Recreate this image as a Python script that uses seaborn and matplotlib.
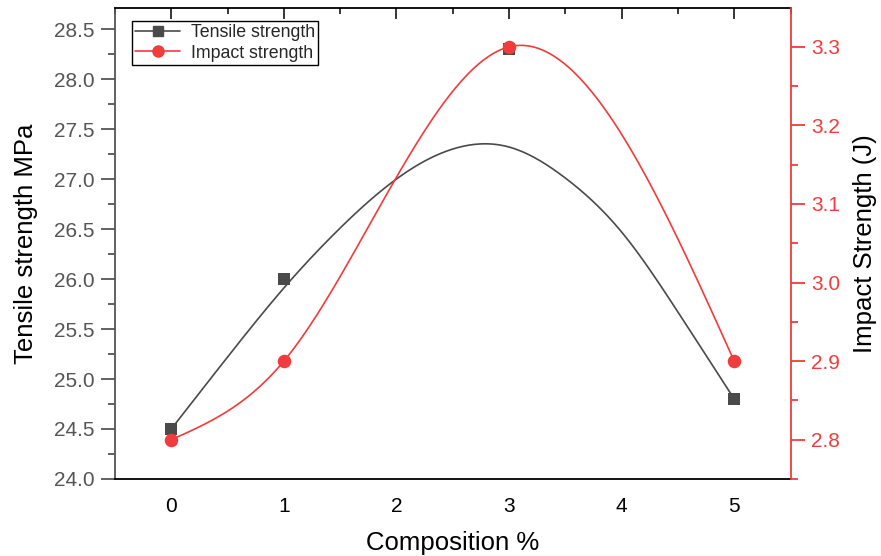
import numpy as np
import pandas as pd
import matplotlib
matplotlib.use("Agg")
import matplotlib.pyplot as plt
import seaborn as sns
from matplotlib.lines import Line2D
from matplotlib.ticker import MultipleLocator, FormatStrFormatter

sns.set_style("white")
plt.rcParams["font.family"] = ["Liberation Sans", "DejaVu Sans"]

# data
composition = [0, 1, 3, 5]
tensile = [24.5, 26.0, 28.3, 24.8]
impact = [2.8, 2.9, 3.3, 2.9]

# the tensile curve in the reference is a smoothed fit
tensile_fit_x = [0, 0.5, 1, 1.5, 2, 2.5, 3, 3.5, 4, 4.5, 5]
tensile_fit_y = [24.5, 25.22, 25.91, 26.51, 27.00, 27.30, 27.32, 27.01, 26.47, 25.67, 24.8]

dark = "#4a4a4a"
red = "#f03c3c"


def natural_spline(xk, yk, xs):
    # natural cubic spline, same as the "spline" line connection
    xk = np.asarray(xk, float)
    yk = np.asarray(yk, float)
    n = len(xk)
    h = np.diff(xk)
    A = np.zeros((n, n))
    rhs = np.zeros(n)
    A[0, 0] = A[-1, -1] = 1
    for i in range(1, n - 1):
        A[i, i - 1] = h[i - 1]
        A[i, i] = 2 * (h[i - 1] + h[i])
        A[i, i + 1] = h[i]
        rhs[i] = 6 * ((yk[i + 1] - yk[i]) / h[i] - (yk[i] - yk[i - 1]) / h[i - 1])
    M = np.linalg.solve(A, rhs)
    idx = np.clip(np.searchsorted(xk, xs) - 1, 0, n - 2)
    x0, x1 = xk[idx], xk[idx + 1]
    hh = x1 - x0
    return (M[idx] * (x1 - xs) ** 3 / (6 * hh) + M[idx + 1] * (xs - x0) ** 3 / (6 * hh)
            + (yk[idx] / hh - M[idx] * hh / 6) * (x1 - xs)
            + (yk[idx + 1] / hh - M[idx + 1] * hh / 6) * (xs - x0))


xs = np.linspace(0, 5, 300)
curves = pd.DataFrame({
    "x": xs,
    "tensile": natural_spline(tensile_fit_x, tensile_fit_y, xs),
    "impact": natural_spline(composition, impact, xs),
})
points = pd.DataFrame({"x": composition, "tensile": tensile, "impact": impact})

fig = plt.figure(figsize=(8.81, 5.56), dpi=100)
ax = fig.add_axes([0.1305, 0.1385, 0.7668, 0.8465])
ax2 = ax.twinx()

sns.lineplot(data=curves, x="x", y="tensile", ax=ax, color=dark, lw=1.2, sort=False)
sns.scatterplot(data=points, x="x", y="tensile", ax=ax, marker="s", s=75,
                color=dark, linewidth=0, zorder=3)
sns.lineplot(data=curves, x="x", y="impact", ax=ax2, color=red, lw=1.2, sort=False)
sns.scatterplot(data=points, x="x", y="impact", ax=ax2, marker="o", s=95,
                color=red, linewidth=0, zorder=3)

ax.set_xlim(-0.5, 5.5)
ax.set_ylim(24.0, 28.707)
ax2.set_ylim(2.75, 3.349)

ax.xaxis.set_major_locator(MultipleLocator(1))
ax.xaxis.set_minor_locator(MultipleLocator(0.5))
ax.yaxis.set_major_locator(MultipleLocator(0.5))
ax.yaxis.set_minor_locator(MultipleLocator(0.25))
ax.yaxis.set_major_formatter(FormatStrFormatter("%.1f"))
ax2.yaxis.set_major_locator(MultipleLocator(0.1))
ax2.yaxis.set_minor_locator(MultipleLocator(0.05))
ax2.yaxis.set_major_formatter(FormatStrFormatter("%.1f"))

# spines
for s in ["left", "top", "bottom"]:
    ax2.spines[s].set_visible(False)
ax.spines["right"].set_visible(False)
ax.spines["left"].set_color("#555555")
ax.spines["bottom"].set_color("black")
ax.spines["top"].set_color("black")
ax2.spines["right"].set_color(red)
for sp in list(ax.spines.values()) + [ax2.spines["right"]]:
    sp.set_linewidth(1.3)

ax.tick_params(axis="x", which="major", direction="out", length=8, width=1.3,
               labelsize=15, pad=5, colors="black")
ax.tick_params(axis="x", which="minor", direction="out", length=4, width=1.3)
ax.tick_params(axis="y", which="major", direction="out", length=10, width=1.3,
               labelsize=15, pad=5, color="#555555", labelcolor="#555555")
ax.tick_params(axis="y", which="minor", direction="out", length=5, width=1.3,
               color="#555555")
ax2.tick_params(axis="y", which="major", direction="out", length=10, width=1.3,
                labelsize=15, pad=5, color=red, labelcolor=red)
ax2.tick_params(axis="y", which="minor", direction="out", length=5, width=1.3,
                color=red)

# top axis with inward ticks
top = ax.secondary_xaxis("top")
top.xaxis.set_major_locator(MultipleLocator(1))
top.xaxis.set_minor_locator(MultipleLocator(0.5))
top.tick_params(which="major", direction="in", length=8, width=1.3, labeltop=False)
top.tick_params(which="minor", direction="in", length=4, width=1.3)
top.spines["top"].set_visible(False)

ax.set_xlabel("Composition %", fontsize=18.5, color="black", labelpad=11)
ax.set_ylabel("Tensile strength MPa", fontsize=18.5, color="black", labelpad=11)
ax2.set_ylabel("Impact Strength (J)", fontsize=18.5, color="black", labelpad=9)

handles = [
    Line2D([], [], color=dark, marker="s", markersize=7, lw=1.2, label="Tensile strength"),
    Line2D([], [], color=red, marker="o", markersize=8, lw=1.2, label="Impact strength"),
]
leg = ax2.legend(handles=handles, loc="upper left", bbox_to_anchor=(0.025, 0.974),
                 borderaxespad=0, fontsize=12.8, frameon=True, fancybox=False,
                 edgecolor="black", framealpha=1, handlelength=2.5,
                 handletextpad=0.6, borderpad=0.2, labelspacing=0.2)
leg.get_frame().set_linewidth(1.0)

plt.savefig("out.png", dpi=100)
